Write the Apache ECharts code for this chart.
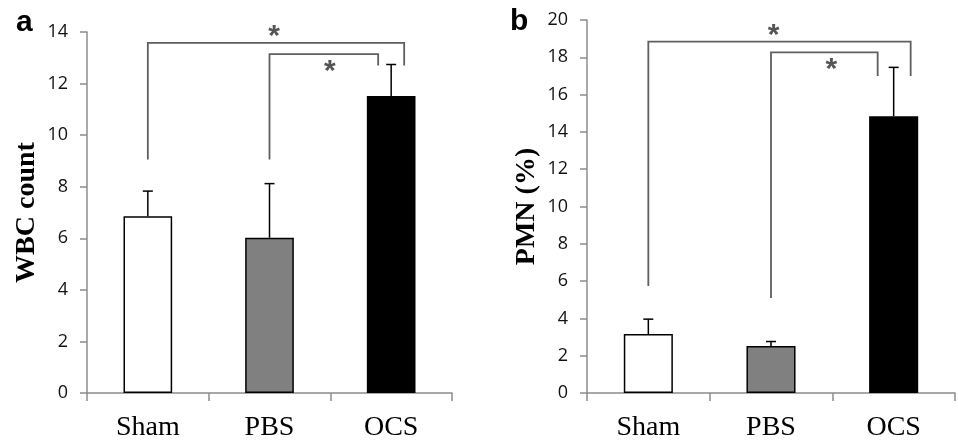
<!DOCTYPE html>
<html>
<head>
<meta charset="utf-8">
<script src="https://cdn.jsdelivr.net/npm/echarts@6/dist/echarts.min.js"></script>
<style>
html,body{margin:0;padding:0;background:#fff;}
#chart{width:958px;height:442px;}
</style>
</head>
<body>
<div id="chart"></div>
<script>
// ---- data ----
const categories = ['Sham', 'PBS', 'OCS'];
const wbcMean = [6.85, 6.02, 11.52];
const wbcErr = [0.98, 2.10, 1.22];
const pmnMean = [3.16, 2.52, 14.84];
const pmnErr = [0.80, 0.24, 2.62];
const wbcTicks = {min: 0, max: 14, interval: 2};
const pmnTicks = {min: 0, max: 20, interval: 2};
// significance brackets: from category, to category, bracket level, left leg end, right leg end
const wbcBracketFrom = [0, 1];
const wbcBracketTo = [2, 2];
const wbcBracketLevel = [13.58, 13.14];
const wbcBracketLeftEnd = [9.06, 9.06];
const wbcBracketRightEnd = [12.7, 12.7];
const pmnBracketFrom = [0, 1];
const pmnBracketTo = [2, 2];
const pmnBracketLevel = [18.84, 18.26];
const pmnBracketLeftEnd = [5.74, 5.10];
const pmnBracketRightEnd = [17.0, 17.0];
const sigLabel = '*';

// ---- styles ----
const barColors = ['#ffffff', '#808080', '#000000'];
const axisGray = '#8c8c8c';
const bracketGray = '#5f5f5f';

function zip(...arrs) { return arrs[0].map((_, i) => arrs.map(a => a[i])); }

function errRender(params, api) {
  const x = api.value(0), m = api.value(1), e = api.value(2);
  const p0 = api.coord([x, m]);
  const p1 = api.coord([x, m + e]);
  const cap = 5;
  return {
    type: 'group',
    children: [
      {type: 'line', shape: {x1: p0[0], y1: p0[1], x2: p1[0], y2: p1[1]}, style: {stroke: '#000', lineWidth: 1.5}},
      {type: 'line', shape: {x1: p1[0] - cap, y1: p1[1], x2: p1[0] + cap, y2: p1[1]}, style: {stroke: '#000', lineWidth: 1.5}}
    ]
  };
}

function makeBracketRender(legOffsets, starOffsets) {
  return function (params, api) {
    const i = params.dataIndex;
    const from = api.value(0), to = api.value(1), lvl = api.value(2), le = api.value(3), re = api.value(4);
    const pTop = api.coord([from, lvl]);
    const xL = pTop[0];
    const xR = api.coord([to, lvl])[0] + legOffsets[i];
    const yT = pTop[1];
    const yL = api.coord([from, le])[1];
    const yR = api.coord([to, re])[1];
    const so = starOffsets[i];
    return {
      type: 'group',
      children: [
        {type: 'polyline', shape: {points: [[xL, yL], [xL, yT], [xR, yT], [xR, yR]]},
         style: {stroke: bracketGray, lineWidth: 1.8, fill: null}},
        {type: 'text', x: (xL + xR) / 2 + so[0], y: yT + so[1],
         style: {text: sigLabel, font: 'bold 30px "Liberation Sans"', fill: '#555555',
                 align: 'center', verticalAlign: 'middle'}}
      ]
    };
  };
}

function yAxisCfg(gridIndex, ticks, name) {
  return {
    type: 'value', gridIndex: gridIndex, min: ticks.min, max: ticks.max, interval: ticks.interval,
    name: name, nameLocation: 'middle', nameGap: 46, nameRotate: 90,
    nameTextStyle: {fontFamily: 'Liberation Serif', fontWeight: 'bold', fontSize: 28, color: '#000'},
    axisLine: {show: true, lineStyle: {color: axisGray, width: 1.5}},
    axisTick: {show: true, length: 7, lineStyle: {color: axisGray, width: 1.5}},
    axisLabel: {fontFamily: 'Open Sans', fontSize: 18, color: '#111', margin: 19},
    splitLine: {show: false}
  };
}

function xAxisCfg(gridIndex) {
  return {
    type: 'category', gridIndex: gridIndex, data: categories,
    axisLine: {show: true, lineStyle: {color: axisGray, width: 1.5}},
    axisTick: {show: true, length: 8, alignWithLabel: false, lineStyle: {color: axisGray, width: 1.5}},
    axisLabel: {fontFamily: 'Liberation Serif', fontSize: 28, color: '#000', margin: 21},
    splitLine: {show: false}
  };
}

function barData(vals) {
  return vals.map((v, i) => ({value: v, itemStyle: {color: barColors[i], borderColor: '#000', borderWidth: 1.5}}));
}

const chart = echarts.init(document.getElementById('chart'), null, {renderer: 'canvas'});
chart.setOption({
  animation: false,
  backgroundColor: '#fff',
  grid: [
    {left: 87, right: 506, top: 32, bottom: 47},
    {left: 587, right: 3, top: 20, bottom: 47}
  ],
  xAxis: [xAxisCfg(0), xAxisCfg(1)],
  yAxis: [yAxisCfg(0, wbcTicks, 'WBC count'), yAxisCfg(1, pmnTicks, 'PMN (%)')],
  graphic: [
    {type: 'text', left: 16, top: 8, style: {text: 'a', font: 'bold 30px "Liberation Sans"', fill: '#000'}},
    {type: 'text', left: 510, top: 7, style: {text: 'b', font: 'bold 30px "Liberation Sans"', fill: '#000'}}
  ],
  series: [
    {type: 'bar', xAxisIndex: 0, yAxisIndex: 0, barWidth: '40%', data: barData(wbcMean), z: 2},
    {type: 'bar', xAxisIndex: 1, yAxisIndex: 1, barWidth: '40%', data: barData(pmnMean), z: 2},
    {type: 'custom', xAxisIndex: 0, yAxisIndex: 0, renderItem: errRender, z: 3,
     data: zip([0, 1, 2], wbcMean, wbcErr)},
    {type: 'custom', xAxisIndex: 1, yAxisIndex: 1, renderItem: errRender, z: 3,
     data: zip([0, 1, 2], pmnMean, pmnErr)},
    {type: 'custom', xAxisIndex: 0, yAxisIndex: 0, z: 4, clip: false,
     renderItem: makeBracketRender([13, -13], [[-2, -6], [6, 18]]),
     data: zip(wbcBracketFrom, wbcBracketTo, wbcBracketLevel, wbcBracketLeftEnd, wbcBracketRightEnd)},
    {type: 'custom', xAxisIndex: 1, yAxisIndex: 1, z: 4, clip: false,
     renderItem: makeBracketRender([17, -16], [[-6, -6], [7, 17]]),
     data: zip(pmnBracketFrom, pmnBracketTo, pmnBracketLevel, pmnBracketLeftEnd, pmnBracketRightEnd)}
  ]
});
</script>
</body>
</html>
